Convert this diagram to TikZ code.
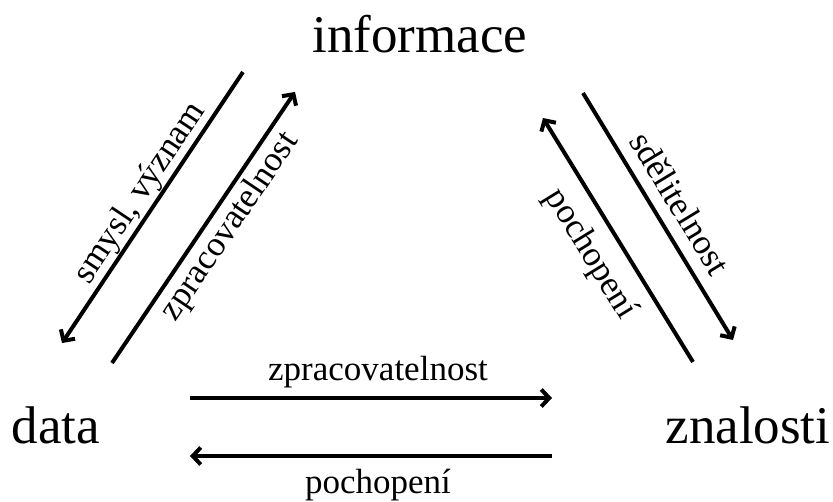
\documentclass[tikz,border=0pt]{standalone}
\usepackage{fontspec}
\setmainfont{Liberation Serif}
\usetikzlibrary{arrows.meta}
\tikzset{
    bigword/.style={inner sep=0pt, anchor=base, font=\fontsize{53}{60}\selectfont},
    arrlabel/.style={inner sep=0pt, font=\fontsize{35}{40}\selectfont},
    flow/.style={line width=4pt, -{Straight Barb[length=8pt,width=17pt,line width=4pt]}}
}
\begin{document}
\begin{tikzpicture}[x=1pt,y=-1pt]
    \useasboundingbox (0,0) rectangle (833,501);
    % the three words
    \node[bigword] (info) at (420,52) {informace};
    \node[bigword] (data) at (56,443) {data};
    \node[bigword] (znal) at (748,443) {znalosti};
    % ends of the arrows
    \coordinate (l1a) at (243,72);  \coordinate (l1b) at (62,343);
    \coordinate (l2a) at (112,363); \coordinate (l2b) at (295,92);
    \coordinate (r1a) at (583,93);  \coordinate (r1b) at (733,340);
    \coordinate (r2a) at (693,362); \coordinate (r2b) at (543,118);
    \coordinate (b1a) at (190,398); \coordinate (b1b) at (552,398);
    \coordinate (b2a) at (552,456); \coordinate (b2b) at (190,456);
    % arrows with labels
    \draw[flow] (l1a) -- node[arrlabel,pos=0.484,sloped,yshift=18pt] {smysl, význam} (l1b);
    \draw[flow] (l2a) -- node[arrlabel,pos=0.547,sloped,yshift=-22pt] {zpracovatelnost} (l2b);
    \draw[flow] (r1a) -- node[arrlabel,pos=0.5,sloped,yshift=26pt] {sdělitelnost} (r1b);
    \draw[flow] (r2a) -- node[arrlabel,pos=0.509,sloped,yshift=-31pt] {pochopení} (r2b);
    \draw[flow] (b1a) -- node[arrlabel,midway,anchor=base,xshift=7pt,yshift=18pt] {zpracovatelnost} (b1b);
    \draw[flow] (b2a) -- node[arrlabel,midway,anchor=base,xshift=7pt,yshift=-37pt] {pochopení} (b2b);
\end{tikzpicture}
\end{document}
